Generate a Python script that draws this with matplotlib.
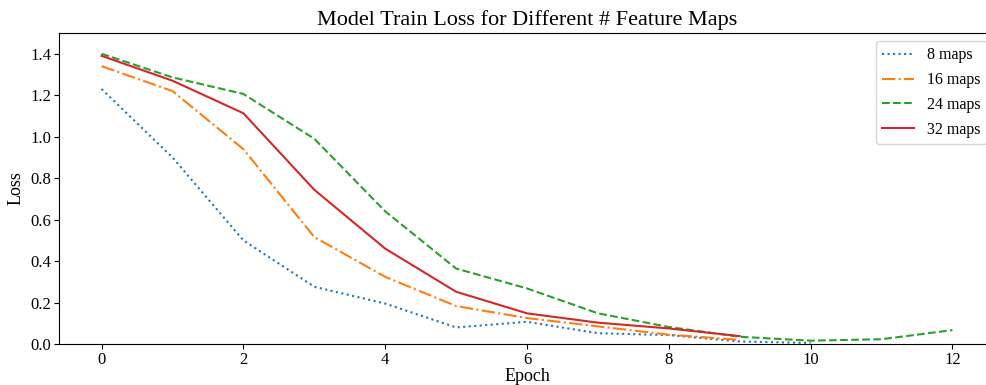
import numpy as np
import matplotlib
matplotlib.use("Agg")
import matplotlib.pyplot as plt

plt.rcParams['font.family'] = ['Liberation Serif', 'DejaVu Serif']

# loss per epoch
loss_8 = [1.23, 0.90, 0.50, 0.276, 0.195, 0.08, 0.107, 0.052, 0.043, 0.012, 0.005]
loss_16 = [1.34, 1.22, 0.94, 0.516, 0.324, 0.183, 0.125, 0.085, 0.045, 0.02]
loss_24 = [1.40, 1.286, 1.206, 0.99, 0.64, 0.364, 0.268, 0.148, 0.082, 0.035, 0.016, 0.023, 0.067]
loss_32 = [1.39, 1.27, 1.113, 0.744, 0.46, 0.252, 0.148, 0.103, 0.075, 0.038]

fig = plt.figure(figsize=(9.87, 3.85), dpi=100)
# axes runs a little past the right edge of the picture, like the reference
ax = fig.add_axes([59/987, 1 - 344/385, 936/987, 311/385])
ax.plot(np.arange(len(loss_8)), loss_8, ':', label='8 maps')
ax.plot(np.arange(len(loss_16)), loss_16, '-.', label='16 maps')
ax.plot(np.arange(len(loss_24)), loss_24, '--', label='24 maps')
ax.plot(np.arange(len(loss_32)), loss_32, '-', label='32 maps')

ax.set_ylim(0, 1.5)
ax.set_title("Model Train Loss for Different # Feature Maps", fontsize=16)
ax.set_xlabel("Epoch", fontsize=13, labelpad=0)
ax.set_ylabel("Loss", fontsize=13)
ax.tick_params(labelsize=12, pad=2)
ax.legend(fontsize=11.5, loc='upper right', labelspacing=0.55)

plt.savefig("out.png")
